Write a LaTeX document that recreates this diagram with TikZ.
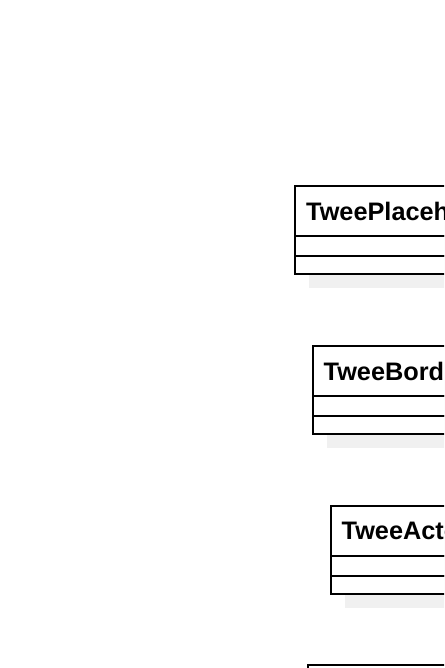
\documentclass[tikz,border=0pt]{standalone}
\usepackage{fontspec}
\setmainfont{Liberation Sans}
\usetikzlibrary{positioning}
\begin{document}
\begin{tikzpicture}[x=1pt,y=-1pt,
    classhead/.style={draw,line width=2pt,fill=white,minimum width=200pt,minimum height=50pt,inner sep=0pt,outer sep=0pt,anchor=north west},
    classpart/.style={draw,line width=2pt,fill=white,minimum width=200pt,inner sep=0pt,outer sep=0pt,anchor=north west},
    classname/.style={anchor=west,inner sep=0pt,font=\fontsize{25.3}{30}\selectfont\bfseries}]
    
    \useasboundingbox (0,0) rectangle (444,668);
    \clip (0,0) rectangle (444,668);
    
    \foreach \i/\x/\y/\name in {1/295/186/TweePlaceholder,2/312.5/346/TweeBorder,3/330.5/506/TweeActor}{
    \fill[gray!12] (\x+14,\y+14) rectangle +(200,87.5);
    \node[classhead] (head\i) at (\x,\y) {};
    \node[classname] (name\i) at ([xshift=11pt]head\i.west) {\name};
    \node[classpart,minimum height=20pt,below=0pt of head\i.south west,anchor=north west] (attr\i) {};
    \node[classpart,minimum height=17.5pt,below=0pt of attr\i.south west,anchor=north west] (oper\i) {};
    }
    
    \node[classhead] (head4) at (308,665) {};
    
\end{tikzpicture}
\end{document}
